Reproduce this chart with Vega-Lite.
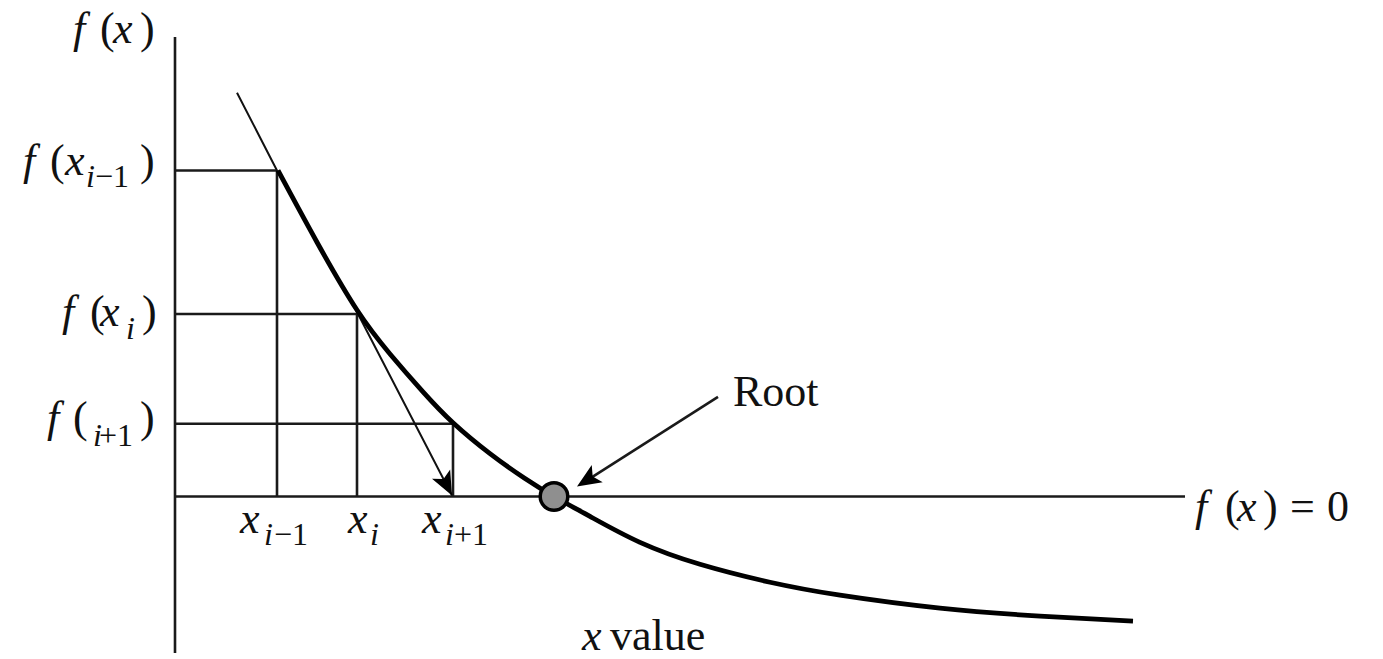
{
  "$schema": "https://vega.github.io/schema/vega-lite/v6.json",
  "width": 1383,
  "height": 659,
  "autosize": {"type": "fit", "contains": "padding"},
  "padding": 0,
  "background": "white",
  "config": {"view": {"stroke": null}},
  "datasets": {
    "segs": [
      {"x": 0, "y": -1.57, "x2": 0, "y2": 4.61},
      {"x": 0, "y": 0, "x2": 10.10, "y2": 0},
      {"x": 0, "y": 3.27, "x2": 1.02, "y2": 3.27},
      {"x": 0, "y": 1.83, "x2": 1.82, "y2": 1.83},
      {"x": 0, "y": 0.73, "x2": 2.78, "y2": 0.73},
      {"x": 1.02, "y": 0, "x2": 1.02, "y2": 3.27},
      {"x": 1.82, "y": 0, "x2": 1.82, "y2": 1.83},
      {"x": 2.78, "y": 0, "x2": 2.78, "y2": 0.73},
      {"x": 5.43, "y": 1.00, "x2": 4.10, "y2": 0.15}
    ],
    "secant": [
      {"x": 0.62, "y": 4.05, "o": 0},
      {"x": 1.02, "y": 3.27, "o": 1},
      {"x": 1.82, "y": 1.85, "o": 2},
      {"x": 2.77, "y": 0.01, "o": 3}
    ],
    "curve": [
      {"x": 1.03, "y": 3.27},
      {"x": 1.42, "y": 2.55},
      {"x": 1.82, "y": 1.87},
      {"x": 2.15, "y": 1.43},
      {"x": 2.48, "y": 1.05},
      {"x": 2.78, "y": 0.74},
      {"x": 3.15, "y": 0.43},
      {"x": 3.50, "y": 0.18},
      {"x": 3.79, "y": 0.00},
      {"x": 4.15, "y": -0.20},
      {"x": 4.65, "y": -0.46},
      {"x": 5.25, "y": -0.68},
      {"x": 5.95, "y": -0.86},
      {"x": 6.65, "y": -0.99},
      {"x": 7.65, "y": -1.12},
      {"x": 8.65, "y": -1.20},
      {"x": 9.58, "y": -1.25}
    ],
    "italicMain": [
      {"x": -1.02, "y": 4.55, "t": "f"},
      {"x": -0.62, "y": 4.55, "t": "x"},
      {"x": -1.52, "y": 3.22, "t": "f"},
      {"x": -1.10, "y": 3.22, "t": "x"},
      {"x": -1.13, "y": 1.71, "t": "f"},
      {"x": -0.75, "y": 1.71, "t": "x"},
      {"x": -1.28, "y": 0.65, "t": "f"},
      {"x": 0.65, "y": -0.37, "t": "x"},
      {"x": 1.73, "y": -0.37, "t": "x"},
      {"x": 2.47, "y": -0.37, "t": "x"},
      {"x": 10.20, "y": -0.25, "t": "f"},
      {"x": 10.62, "y": -0.25, "t": "x"},
      {"x": 4.07, "y": -1.54, "t": "x"}
    ],
    "uprightMain": [
      {"x": -0.75, "y": 4.55, "t": "("},
      {"x": -0.35, "y": 4.55, "t": ")"},
      {"x": -1.25, "y": 3.22, "t": "("},
      {"x": -0.35, "y": 3.22, "t": ")"},
      {"x": -0.85, "y": 1.71, "t": "("},
      {"x": -0.33, "y": 1.71, "t": ")"},
      {"x": -1.02, "y": 0.65, "t": "("},
      {"x": -0.35, "y": 0.65, "t": ")"},
      {"x": 10.50, "y": -0.25, "t": "("},
      {"x": 10.88, "y": -0.25, "t": ")"},
      {"x": 11.15, "y": -0.25, "t": "="},
      {"x": 11.52, "y": -0.25, "t": "0"},
      {"x": 4.35, "y": -1.54, "t": "value"},
      {"x": 5.58, "y": 0.91, "t": "Root"}
    ],
    "italicSub": [
      {"x": -0.89, "y": 3.10, "t": "i"},
      {"x": -0.49, "y": 1.58, "t": "i"},
      {"x": -0.82, "y": 0.51, "t": "i"},
      {"x": 0.89, "y": -0.49, "t": "i"},
      {"x": 1.95, "y": -0.49, "t": "i"},
      {"x": 2.70, "y": -0.49, "t": "i"}
    ],
    "uprightSub": [
      {"x": -0.80, "y": 3.10, "t": "−1"},
      {"x": -0.76, "y": 0.51, "t": "+1"},
      {"x": 0.99, "y": -0.49, "t": "−1"},
      {"x": 2.79, "y": -0.49, "t": "+1"}
    ]
  },
  "encoding": {
    "x": {"field": "x", "type": "quantitative", "axis": null, "scale": {"domain": [-1.75, 12.08], "nice": false, "zero": false}},
    "y": {"field": "y", "type": "quantitative", "axis": null, "scale": {"domain": [-1.61, 4.98], "nice": false, "zero": false}}
  },
  "layer": [
    {
      "data": {"name": "segs"},
      "mark": {"type": "rule", "color": "#1a1a1a", "strokeWidth": 2.6},
      "encoding": {"x2": {"field": "x2"}, "y2": {"field": "y2"}}
    },
    {
      "data": {"name": "secant"},
      "mark": {"type": "line", "color": "#111111", "strokeWidth": 2},
      "encoding": {"order": {"field": "o", "type": "quantitative"}}
    },
    {
      "data": {"name": "curve"},
      "mark": {"type": "line", "color": "#000000", "strokeWidth": 4.8, "interpolate": "natural"},
      "encoding": {}
    },
    {
      "data": {"values": [{"x": 2.77, "y": 0.01}]},
      "mark": {"type": "point", "filled": true, "color": "#000000", "opacity": 1, "size": 576, "angle": 152.9, "shape": "M0,0 L0.85,2 L0,1.55 L-0.85,2 Z"}
    },
    {
      "data": {"values": [{"x": 4.02, "y": 0.10}]},
      "mark": {"type": "point", "filled": true, "color": "#000000", "opacity": 1, "size": 576, "angle": 237.45, "shape": "M0,0 L0.85,2 L0,1.55 L-0.85,2 Z"}
    },
    {
      "data": {"values": [{"x": 3.79, "y": 0}]},
      "mark": {"type": "point", "filled": true, "fill": "#8f8f8f", "stroke": "#000000", "strokeWidth": 3.5, "opacity": 1, "size": 760, "shape": "circle"}
    },
    {
      "data": {"name": "italicMain"},
      "mark": {"type": "text", "font": "Liberation Serif", "fontStyle": "italic", "fontSize": 44, "align": "left", "baseline": "alphabetic", "color": "#111111"},
      "encoding": {"text": {"field": "t"}}
    },
    {
      "data": {"name": "uprightMain"},
      "mark": {"type": "text", "font": "Liberation Serif", "fontSize": 44, "align": "left", "baseline": "alphabetic", "color": "#111111"},
      "encoding": {"text": {"field": "t"}}
    },
    {
      "data": {"name": "italicSub"},
      "mark": {"type": "text", "font": "Liberation Serif", "fontStyle": "italic", "fontSize": 32, "align": "left", "baseline": "alphabetic", "color": "#111111"},
      "encoding": {"text": {"field": "t"}}
    },
    {
      "data": {"name": "uprightSub"},
      "mark": {"type": "text", "font": "Liberation Serif", "fontSize": 32, "align": "left", "baseline": "alphabetic", "color": "#111111"},
      "encoding": {"text": {"field": "t"}}
    }
  ]
}
